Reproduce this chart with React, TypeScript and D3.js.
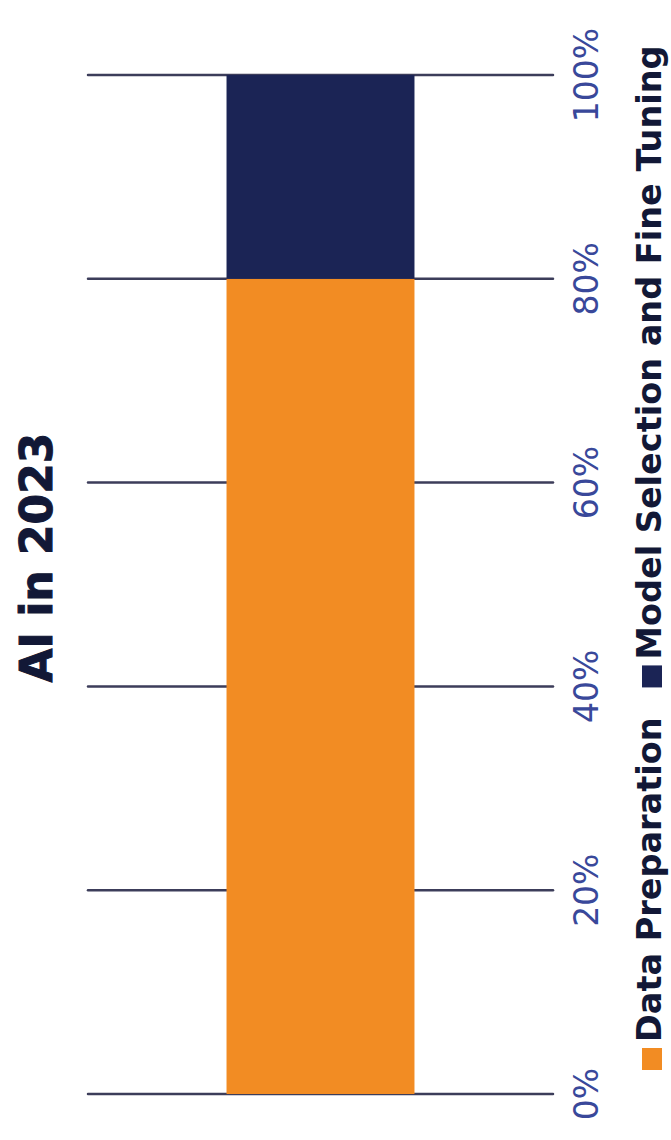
import * as d3 from 'd3';
import React, { useEffect, useRef } from 'react';

const WIDTH = 671;
const HEIGHT = 1140;

const TITLE = 'AI in 2023';
const categories = ['2023'];
const seriesNames = ['Data Preparation', 'Model Selection and Fine Tuning'];
const dataPreparation = [80];
const modelSelection = [20];
const tickValues = [0, 20, 40, 60, 80, 100];

const COLORS = ['#f28c23', '#1b2455'];
const GRID_COLOR = '#3c3d5a';
const TICK_COLOR = '#39489a';
const TEXT_COLOR = '#121836';
const FONT = '"DejaVu Sans", Verdana, sans-serif';

const App: React.FC = () => {
  const ref = useRef<SVGSVGElement>(null);

  useEffect(() => {
    const svg = d3.select(ref.current);
    svg.selectAll('*').remove();

    // the chart is turned on its side: values run bottom to top, text reads upwards
    const plot = { left: 88, right: 553, top: 75, bottom: 1094 };

    const y = d3.scaleLinear().domain([0, 100]).range([plot.bottom, plot.top]);
    const x = d3
      .scaleBand<string>()
      .domain(categories)
      .range([plot.left, plot.right])
      .paddingInner(0)
      .paddingOuter(0.737);

    const rows = categories.map((c, i) => ({
      category: c,
      [seriesNames[0]]: dataPreparation[i],
      [seriesNames[1]]: modelSelection[i],
    }));
    const stacked = d3.stack<any>().keys(seriesNames)(rows);

    // gridlines
    svg
      .append('g')
      .selectAll('line')
      .data(tickValues)
      .enter()
      .append('line')
      .attr('x1', plot.left)
      .attr('x2', plot.right)
      .attr('y1', d => y(d))
      .attr('y2', d => y(d))
      .attr('stroke', GRID_COLOR)
      .attr('stroke-width', 2.5)
      .attr('stroke-linecap', 'round');

    // stacked bar
    svg
      .append('g')
      .selectAll('g')
      .data(stacked)
      .enter()
      .append('g')
      .attr('fill', (_, i) => COLORS[i])
      .selectAll('rect')
      .data(d => d)
      .enter()
      .append('rect')
      .attr('x', d => x(d.data.category) || 0)
      .attr('width', x.bandwidth())
      .attr('y', d => y(d[1]))
      .attr('height', d => y(d[0]) - y(d[1]));

    // tick labels
    svg
      .append('g')
      .selectAll('text')
      .data(tickValues)
      .enter()
      .append('text')
      .attr('transform', d => `translate(598,${y(d)}) rotate(-90)`)
      .attr('text-anchor', 'middle')
      .style('font-family', FONT)
      .style('font-size', '33px')
      .style('fill', TICK_COLOR)
      .text(d => `${d}%`);

    // title
    svg
      .append('text')
      .attr('transform', `translate(52,${(plot.top + plot.bottom) / 2 - 27}) rotate(-90)`)
      .attr('text-anchor', 'middle')
      .style('font-family', FONT)
      .style('font-weight', 'bold')
      .style('font-size', '44px')
      .style('fill', TEXT_COLOR)
      .style('stroke', TEXT_COLOR)
      .style('stroke-width', 1)
      .text(TITLE);

    // legend, laid out upwards from the bottom
    const legend = svg.append('g');
    let pos = 1070;
    seriesNames.forEach((name, i) => {
      legend
        .append('rect')
        .attr('x', 642)
        .attr('y', pos - 22)
        .attr('width', 20)
        .attr('height', 22)
        .attr('fill', COLORS[i]);
      pos -= 22 + 6;
      const t = legend
        .append('text')
        .attr('transform', `translate(661,${pos}) rotate(-90)`)
        .style('font-family', FONT)
        .style('font-weight', 'bold')
        .style('font-size', '33.5px')
        .style('fill', TEXT_COLOR)
        .text(name);
      const len = (t.node() as SVGTextElement).getComputedTextLength();
      pos -= len + 30;
    });
  }, []);

  return (
    <svg
      ref={ref}
      width={WIDTH}
      height={HEIGHT}
      viewBox={`0 0 ${WIDTH} ${HEIGHT}`}
      style={{ position: 'absolute', left: 0, top: 0, background: '#fff' }}
    />
  );
};

export default App;
